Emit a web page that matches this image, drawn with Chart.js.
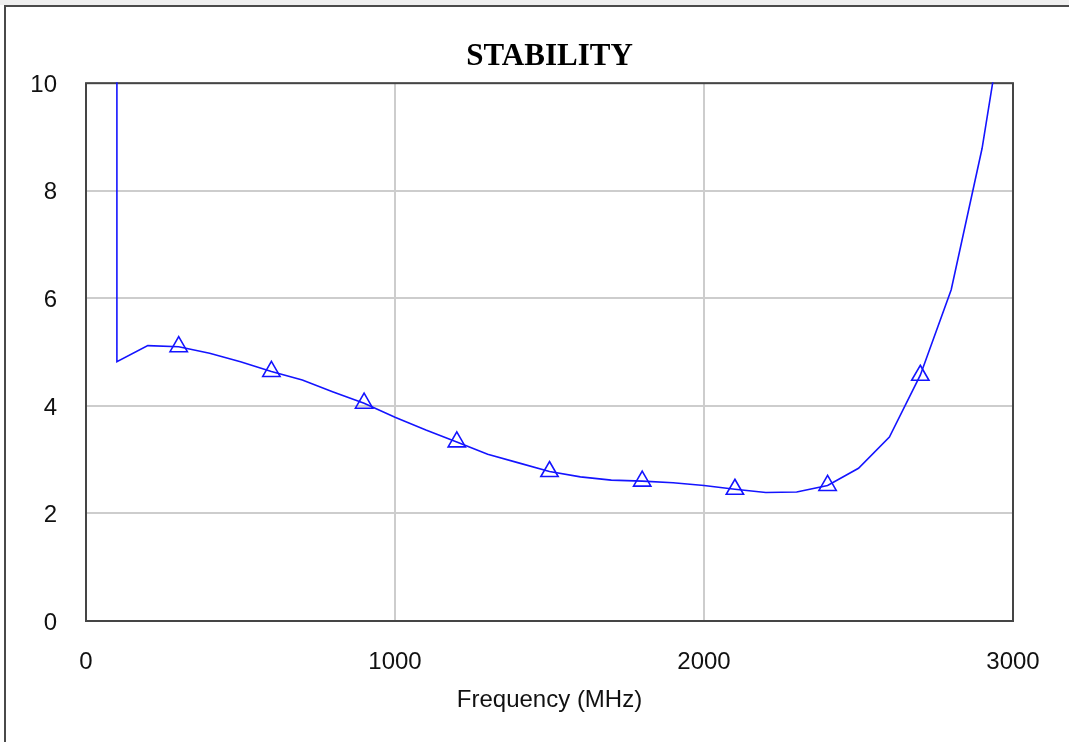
<!DOCTYPE html>
<html>
<head>
<meta charset="utf-8">
<script src="https://cdn.jsdelivr.net/npm/chart.js@4.4.1/dist/chart.umd.min.js"></script>
<style>
    body { margin: 0; background: #ffffff; }
    #top_band { position: absolute; left: 0; top: 0; width: 1069px; height: 5px; background: #efefef; }
    #frame    { position: absolute; left: 4px; top: 5px; width: 1065px; height: 737px;
                border-top: 2px solid #4a4a4a; border-left: 2px solid #4a4a4a; box-sizing: border-box; }
    #stability_graph { position: absolute; left: 0; top: 0; }
</style>
</head>
<body>
<div id="top_band"></div>
<div id="frame"></div>
<canvas id="stability_graph" width="1069" height="742"></canvas>
<script>
// sweep points (MHz) and stability factor
const freqs = [100, 100, 200, 300, 400, 500, 600, 700, 800, 900, 1000,
               1100, 1200, 1300, 1400, 1500, 1600, 1700, 1800, 1900, 2000,
               2100, 2200, 2300, 2400, 2500, 2600, 2700, 2800, 2900, 3000];
const k_values = [60, 4.82, 5.12, 5.10, 4.98, 4.82, 4.64, 4.48, 4.26, 4.05, 3.79,
                  3.55, 3.33, 3.10, 2.94, 2.78, 2.68, 2.62, 2.60, 2.57, 2.52,
                  2.45, 2.39, 2.40, 2.52, 2.84, 3.42, 4.57, 6.16, 8.79, 12.35];
// triangle markers every 300 MHz
const marker_freqs = [300, 600, 900, 1200, 1500, 1800, 2100, 2400, 2700];

const x_ticks = [0, 1000, 2000, 3000];
const y_ticks = [0, 2, 4, 6, 8, 10];

function draw_stability_graph(){
    let line_points   = [];
    let marker_points = [];

    for (let i=0; i<freqs.length; i++){
        line_points.push({x: freqs[i], y: k_values[i]});
    }
    for (let f of marker_freqs){
        let idx = freqs.lastIndexOf(f);
        marker_points.push({x: f, y: k_values[idx]});
    }

    const blue = 'rgb(20,20,255)';

    // box round the plot area, title centred over the plot
    const plot_frame = {
        id: 'plot_frame',
        afterLayout(chart){
            if (chart.titleBlock){
                chart.titleBlock.left  = chart.chartArea.left;
                chart.titleBlock.right = chart.chartArea.right;
            }
        },
        beforeDatasetsDraw(chart){
            const a = chart.chartArea;
            const c = chart.ctx;
            c.save();
            c.strokeStyle = '#454545';
            c.lineWidth   = 2;
            c.strokeRect(a.left, a.top, a.right - a.left, a.bottom - a.top);
            c.restore();
        }
    };

    const ctx     = document.getElementById("stability_graph").getContext("2d");
    const myChart = new Chart(ctx, {
        type: "scatter",
        data: {
            datasets: [
                {
                    data: line_points,
                    showLine: true,
                    borderColor: blue,
                    borderWidth: 1.6,
                    pointRadius: 0,
                    tension: 0,
                    clip: 1
                },
                {
                    data: marker_points,
                    showLine: false,
                    pointStyle: 'triangle',
                    pointRadius: 10,
                    pointBorderWidth: 1.6,
                    pointBorderColor: blue,
                    pointBackgroundColor: 'rgba(0,0,0,0)'
                }
            ]
        },
        options: {
            responsive: false,
            animation: false,
            layout: {
                padding: {left: 0, right: 56, top: 0, bottom: 0}
            },
            scales: {
                x: {
                    type: 'linear',
                    min: x_ticks[0],
                    max: x_ticks[x_ticks.length - 1],
                    afterBuildTicks: (scale) => { scale.ticks = x_ticks.map(v => ({value: v})); },
                    afterFit: (scale) => { scale.height = 121; },
                    grid: { color: '#cdcdcd', lineWidth: 2, drawTicks: false },
                    border: { display: false },
                    ticks: {
                        padding: 27,
                        color: '#111111',
                        font: { family: 'Liberation Sans', size: 24 },
                        callback: (v) => String(v)
                    },
                    title: {
                        display: true,
                        text: 'Frequency (MHz)',
                        color: '#111111',
                        font: { family: 'Liberation Sans', size: 24 },
                        padding: { top: 4, bottom: 27.5 }
                    }
                },
                y: {
                    min: y_ticks[0],
                    max: y_ticks[y_ticks.length - 1],
                    afterBuildTicks: (scale) => { scale.ticks = y_ticks.map(v => ({value: v})); },
                    afterFit: (scale) => { scale.width = 86; },
                    grid: { color: '#cdcdcd', lineWidth: 2, drawTicks: false },
                    border: { display: false },
                    ticks: {
                        padding: 29,
                        labelOffset: 2,
                        color: '#111111',
                        font: { family: 'Liberation Sans', size: 24 },
                        callback: (v) => String(v)
                    }
                }
            },
            plugins: {
                legend: {
                    display: false
                },
                tooltip: {
                    enabled: false
                },
                title: {
                    display: true,
                    text: 'STABILITY',
                    color: '#000000',
                    font: { family: 'Liberation Serif', size: 31, weight: 'bold' },
                    padding: { top: 38, bottom: 8 }
                }
            }
        },
        plugins: [plot_frame]
    });
}

draw_stability_graph();
</script>
</body>
</html>
